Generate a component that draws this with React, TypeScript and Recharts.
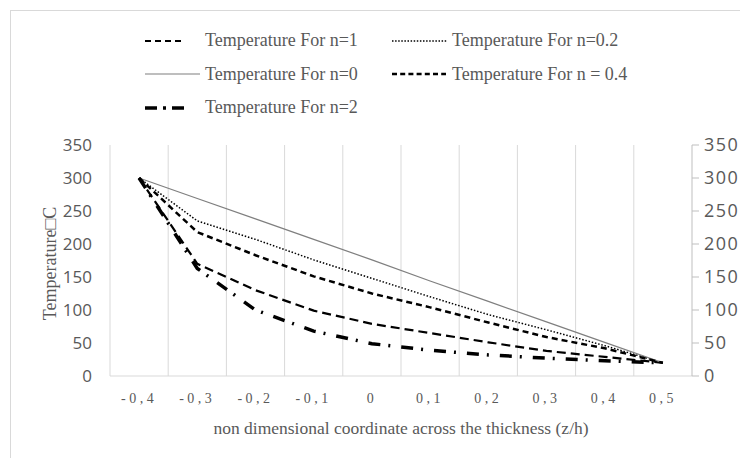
import React from "react";
import { LineChart, Line, XAxis, YAxis, CartesianGrid, Legend } from "recharts";

const categories = ["-0,4", "-0,3", "-0,2", "-0,1", "0", "0,1", "0,2", "0,3", "0,4", "0,5"];
const tempN1 = [300, 170, 130, 99, 79, 65, 51, 38, 29, 20];
const tempN02 = [300, 235, 207, 176, 148, 120, 93, 70, 46, 20];
const tempN0 = [300, 269, 238, 207, 176, 144, 113, 82, 51, 20];
const tempN04 = [300, 218, 183, 151, 125, 104, 81, 59, 42, 20];
const tempN2 = [300, 163, 100, 68, 49, 39, 32, 27, 23, 20];
const yTicks = [0, 50, 100, 150, 200, 250, 300, 350];

const data = categories.map((z, i) => ({
  z,
  n1: tempN1[i],
  n02: tempN02[i],
  n0: tempN0[i],
  n04: tempN04[i],
  n2: tempN2[i],
}));

// both y axes share the same 0..350 scale; the solid line is bound to the right one so it gets drawn
const series = [
  { key: "n1", axis: "left", name: "Temperature For n=1", stroke: "#000", width: 2.2, dash: "9 5", icon: { len: 36, dash: "6 4", width: 2.2 } },
  { key: "n02", axis: "left", name: "Temperature For n=0.2", stroke: "#000", width: 1.5, dash: "1.5 1.8", icon: { len: 55, dash: "1.5 1.6", width: 1.4 } },
  { key: "n0", axis: "right", name: "Temperature For n=0", stroke: "#7f7f7f", width: 1.2, dash: undefined, icon: { len: 55, dash: undefined, width: 1.2 } },
  { key: "n04", axis: "left", name: "Temperature For n = 0.4", stroke: "#000", width: 2.5, dash: "6 4", icon: { len: 54, dash: "5 3.2", width: 2.5 } },
  { key: "n2", axis: "left", name: "Temperature For n=2", stroke: "#000", width: 3.5, dash: "12 8 2 11", icon: { len: 41, dash: "12 6 3 6", width: 3.5 } },
];

const textGray = "#595959";
const serif = "'Liberation Serif', 'DejaVu Serif', serif";

function LegendBlock() {
  return (
    <div style={{ display: "grid", gridTemplateColumns: "247px 260px", rowGap: 0 }}>
      {series.map((s) => (
        <div key={s.key} style={{ display: "flex", alignItems: "center", height: 33.5 }}>
          <svg width={60} height={12} style={{ flex: "none" }}>
            <line
              x1={0}
              x2={s.icon.len}
              y1={6}
              y2={6}
              stroke={s.stroke}
              strokeWidth={s.icon.width}
              strokeDasharray={s.icon.dash}
            />
          </svg>
          <span style={{ fontFamily: serif, fontSize: 18, color: textGray, whiteSpace: "nowrap" }}>{s.name}</span>
        </div>
      ))}
    </div>
  );
}

function YTitle(props: any) {
  const { x, y, height } = props.viewBox;
  const cx = x + 39;
  const cy = y + height / 2 + 3;
  return (
    <text
      x={cx}
      y={cy}
      transform={`rotate(-90, ${cx}, ${cy})`}
      textAnchor="middle"
      dominantBaseline="central"
      fill={textGray}
      fontSize={18}
      fontFamily={serif}
    >
      Temperature□C
    </text>
  );
}

// vertical grid lines sit on the category boundaries, not the centres
const boundaryGrid = ({ offset }: any) =>
  categories.map((_, i) => offset.left + (i * offset.width) / categories.length);

export default function App() {
  return (
    <div
      style={{
        marginLeft: 2,
        marginTop: 2,
        width: 760,
        height: 470,
        border: "1px solid #d9d9d9",
        background: "#fff",
      }}
    >
      <LineChart width={737} height={447} data={data} margin={{ top: 134, right: 0, bottom: 22, left: 0 }}>
        <CartesianGrid horizontal={false} stroke="#d9d9d9" verticalCoordinatesGenerator={boundaryGrid} />
        <XAxis
          dataKey="z"
          scale="band"
          height={60}
          axisLine={{ stroke: "#d9d9d9" }}
          tickLine={false}
          tickSize={6}
          tickMargin={11}
          tick={{ fill: textGray, fontSize: 14, fontFamily: serif, letterSpacing: 3.5 }}
          label={{
            value: "non dimensional coordinate across the thickness (z/h)",
            position: "insideBottom",
            offset: 2,
            fill: textGray,
            fontSize: 17.5,
            fontFamily: serif,
          }}
        />
        <YAxis
          yAxisId="left"
          width={99}
          domain={[0, 350]}
          ticks={yTicks}
          axisLine={false}
          tickLine={false}
          tickSize={6}
          tickMargin={12}
          tick={{ fill: textGray, fontSize: 17, fontFamily: "'Open Sans', sans-serif" }}
          label={<YTitle />}
        />
        <YAxis
          yAxisId="right"
          orientation="right"
          width={56}
          domain={[0, 350]}
          ticks={yTicks}
          axisLine={{ stroke: "#bfbfbf" }}
          tickLine={{ stroke: "#bfbfbf" }}
          tickSize={7}
          tickMargin={5}
          tick={{ fill: textGray, fontSize: 18, fontFamily: "'Open Sans', sans-serif", letterSpacing: 1.5 }}
        />
        <Legend
          layout="vertical"
          verticalAlign="middle"
          align="center"
          wrapperStyle={{ top: 13, left: 134, width: 520 }}
          content={() => <LegendBlock />}
        />
        {series.map((s) => (
          <Line
            key={s.key}
            yAxisId={s.axis}
            type="linear"
            dataKey={s.key}
            name={s.name}
            stroke={s.stroke}
            strokeWidth={s.width}
            strokeDasharray={s.dash}
            dot={false}
            activeDot={false}
            isAnimationActive={false}
          />
        ))}
      </LineChart>
    </div>
  );
}
